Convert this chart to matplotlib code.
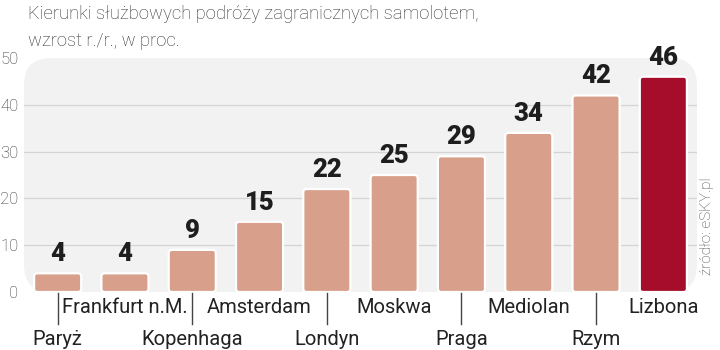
import matplotlib
matplotlib.use("Agg")
import matplotlib.pyplot as plt
from matplotlib.patches import FancyBboxPatch

cities = ["Paryż", "Frankfurt n.M.", "Kopenhaga", "Amsterdam", "Londyn",
          "Moskwa", "Praga", "Mediolan", "Rzym", "Lizbona"]
growth = [4, 4, 9, 15, 22, 25, 29, 34, 42, 46]
bar_colors = ["#d8a08b"] * 9 + ["#a50d2a"]

title = "Kierunki służbowych podróży zagranicznych samolotem,\nwzrost r./r., w proc."
source = "źródło: eSKY.pl"

plt.rcParams['font.family'] = ['Roboto', 'DejaVu Sans']

fig = plt.figure(figsize=(7.2, 3.5), dpi=100)
ax = fig.add_axes([24 / 720, 58 / 350, 673 / 720, 234 / 350])
ax.set_xlim(-0.5, len(cities) - 0.5)
ax.set_ylim(0, 50)

# background panel with rounded corners
bg = FancyBboxPatch((0, 0), 1, 1, boxstyle="round,pad=0,rounding_size=0.04",
                    mutation_aspect=673 / 234, transform=ax.transAxes,
                    facecolor="#f2f2f2", edgecolor="none", zorder=0, clip_on=False)
ax.add_patch(bg)
for v in [10, 20, 30, 40]:
    ax.axhline(v, color="#d4d4d4", lw=0.9, zorder=1)

x = list(range(len(cities)))
bars = ax.bar(x, growth, width=0.7, color=bar_colors)
# swap plain bars for rounded ones
px_x = 673 / 10
px_y = 234 / 50
for b in bars:
    bx, by = b.get_x(), b.get_y()
    w, h = b.get_width(), b.get_height()
    fc = b.get_facecolor()
    b.remove()
    rb = FancyBboxPatch((bx, by), w, h,
                        boxstyle="round,pad=0,rounding_size=0.05",
                        mutation_aspect=px_x / px_y,
                        facecolor=fc, edgecolor="white", lw=1.6, zorder=3)
    ax.add_patch(rb)

for xi, v in zip(x, growth):
    ax.text(xi, v + 1.5, str(v), ha="center", va="bottom", fontsize=18.5,
            fontweight="heavy", color="#1e1e1e", zorder=4)

# alternating category labels
for xi, name in zip(x, cities):
    if xi % 2 == 0:
        ax.plot([xi, xi], [-0.3, -6.8], color="#444444", lw=1.0, clip_on=False)
        ax.text(xi, -10.1, name, ha="center", va="center", fontsize=14.5,
                color="#222222")
    else:
        ax.text(xi, -3.3, name, ha="center", va="center", fontsize=14.5,
                color="#222222")

ax.set_yticks([0, 10, 20, 30, 40, 50])
ax.set_xticks([])
ax.tick_params(axis="y", length=0, pad=4, labelsize=12, labelcolor="#333333")
for lab in ax.get_yticklabels():
    lab.set_fontweight("light")
for s in ax.spines.values():
    s.set_visible(False)
ax.patch.set_visible(False)

fig.text(28 / 720, 1 - 5 / 350, title, ha="left", va="top", fontsize=13.3,
         color="#333333", fontweight="light", linespacing=1.65)
fig.text(707 / 720, 1 - 226 / 350, source, rotation=90, ha="center", va="center",
         fontsize=11, color="#444444", fontweight="light")

fig.savefig("out.png", dpi=100)
